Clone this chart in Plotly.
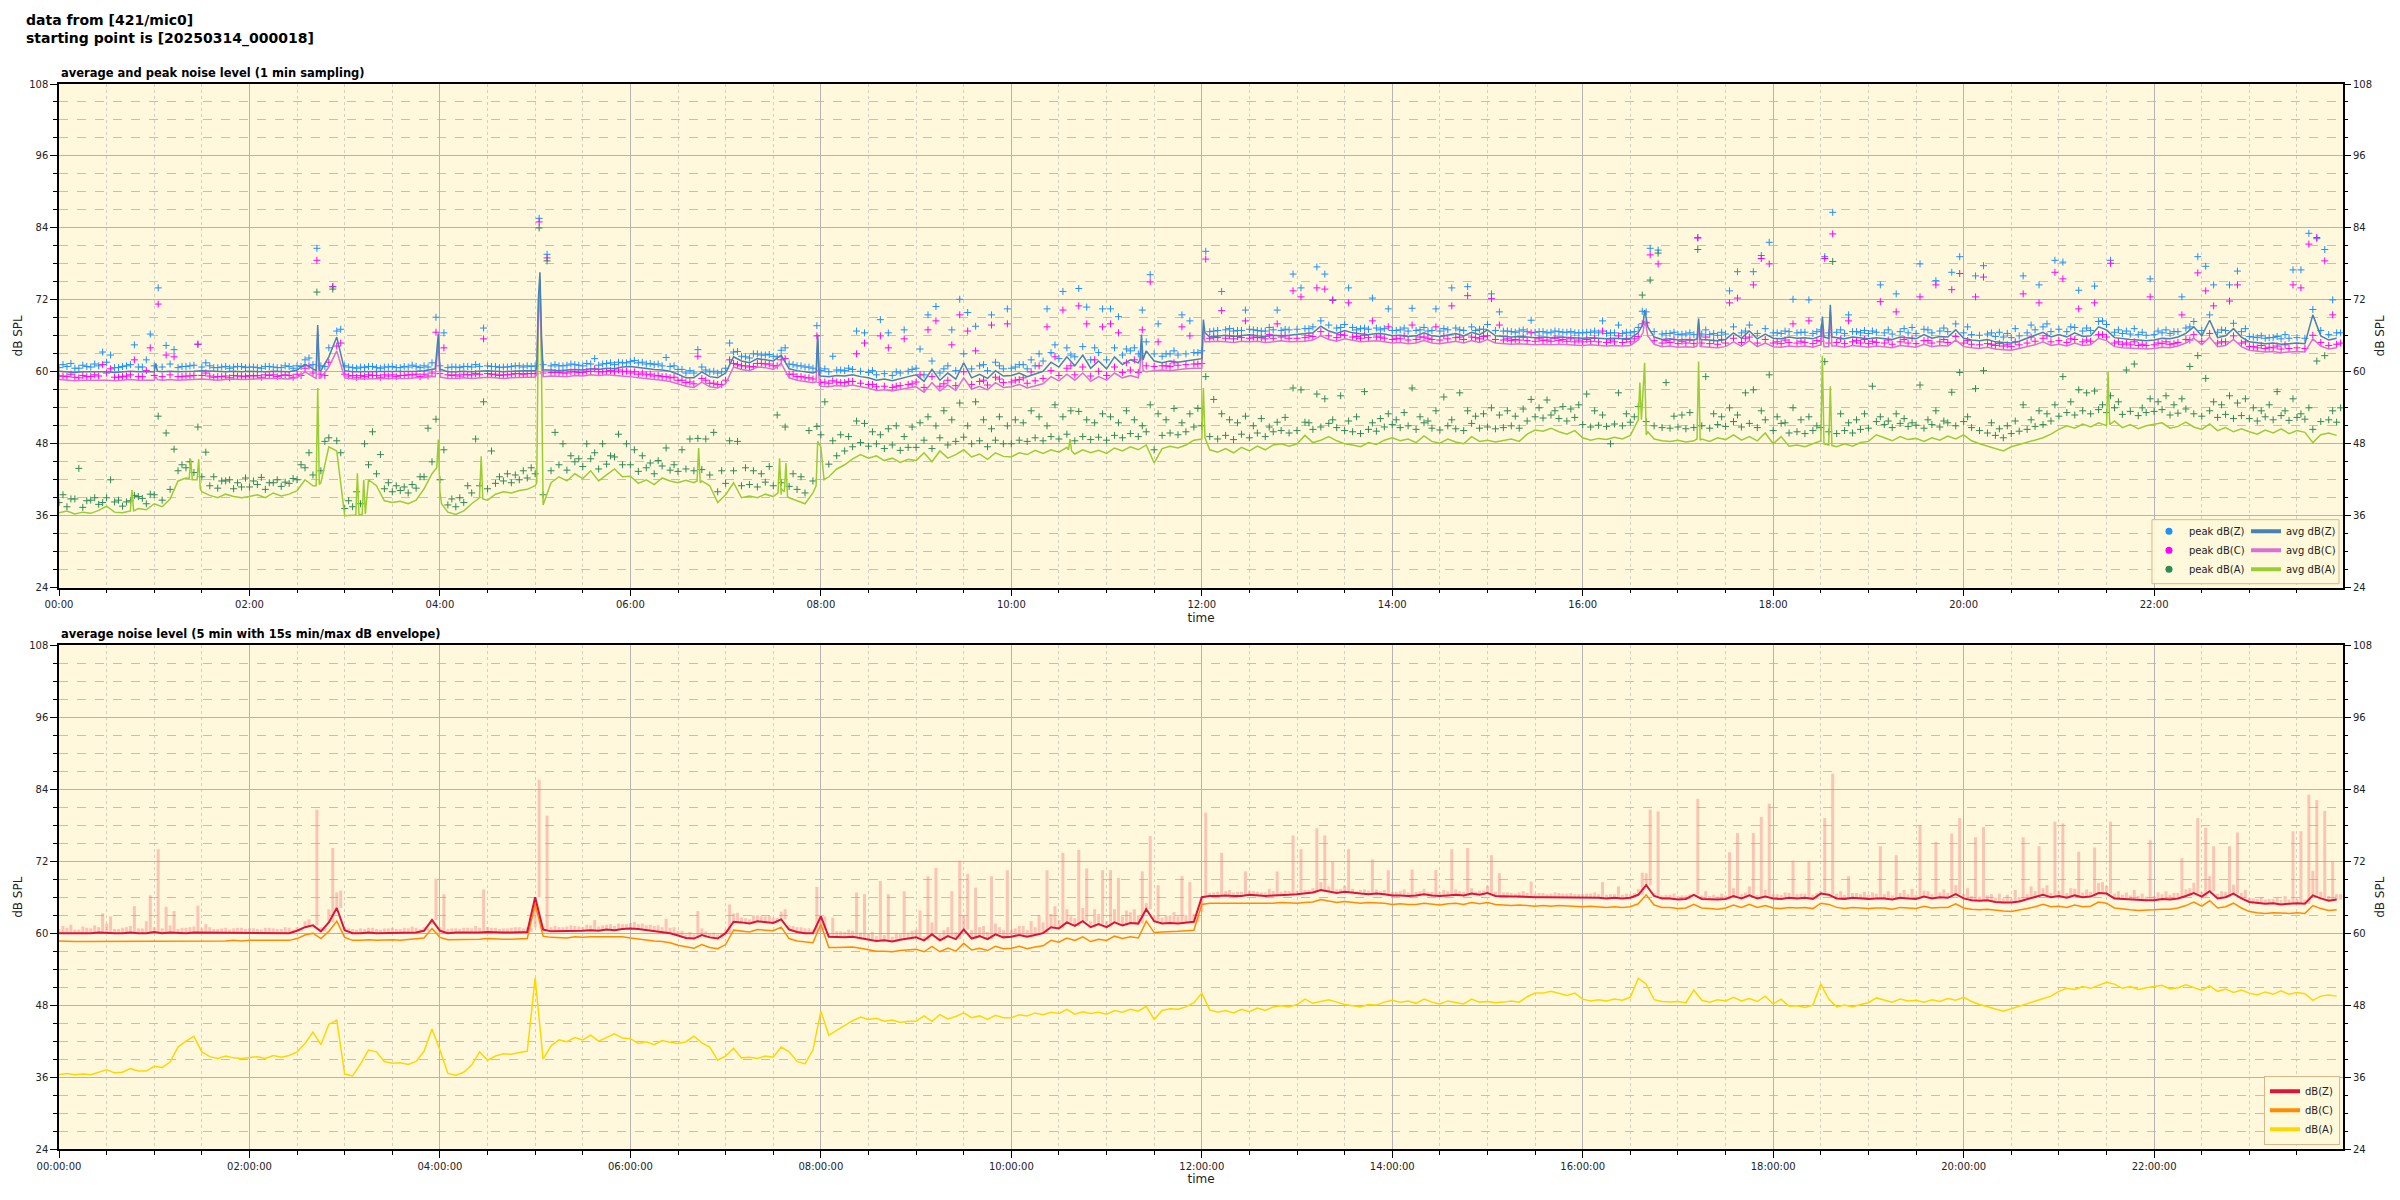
import numpy as np
import pandas as pd
import plotly.graph_objects as go

# ---------------------------------------------------------------- data
DAY = pd.Timestamp("2025-03-14")
grid_min = np.arange(0, 1440, 5)      # 5-minute sampling grid (minutes after midnight)
peak_min = grid_min + 2.5             # first set of peak samples (between grid points)
peakb_min = grid_min + 0.0            # second set of peak samples (on grid points)

# top panel: average levels (1 row = 1 hour, 12 samples)
avg_z = [
    60.1, 60.0, 59.9, 60.0, 60.0, 60.1, 60.0, 59.9, 60.0, 60.1, 60.0, 60.0,
    60.0, 60.0, 60.1, 60.0, 60.0, 60.1, 60.2, 60.1, 60.0, 60.0, 60.1, 60.0,
    60.1, 60.0, 60.0, 60.1, 60.0, 60.0, 60.3, 61.3, 60.5, 60.2, 62.5, 65.8,
    60.2, 60.0, 60.0, 60.1, 60.0, 60.0, 60.1, 60.0, 60.0, 60.1, 60.2, 60.4,
    60.3, 60.0, 60.0, 60.1, 60.0, 60.1, 60.2, 60.1, 60.0, 60.1, 60.2, 60.2,
    60.2, 60.3, 60.3, 60.2, 60.3, 60.4, 60.3, 60.5, 60.4, 60.6, 60.5, 60.8,
    60.9, 60.7, 60.6, 60.4, 60.3, 60.1, 59.6, 59.0, 59.0, 60.0, 59.2, 59.0,
    59.8, 62.5, 61.8, 61.5, 62.2, 62.0, 61.8, 62.8, 60.5, 60.2, 60.0, 59.8,
    59.3, 59.2, 59.4, 59.3, 59.5, 59.2, 59.0, 58.6, 58.8, 58.5, 58.9, 59.2,
    59.5, 58.4, 60.4, 58.6, 59.8, 58.8, 61.5, 59.0, 59.6, 58.9, 60.2, 59.3,
    59.4, 59.8, 59.2, 59.6, 60.1, 61.6, 60.8, 62.5, 61.0, 62.8, 60.6, 61.8,
    60.5, 62.5, 61.2, 62.0, 61.5, 63.5, 61.8, 61.5, 61.8, 61.6, 61.8, 62.0,
    62.2, 65.8, 66.0, 66.1, 65.9, 66.0, 66.2, 66.0, 65.9, 66.1, 66.0, 66.1,
    66.2, 66.3, 66.5, 67.6, 66.8, 66.4, 66.9, 66.5, 66.3, 66.2, 66.4, 66.3,
    66.0, 66.1, 65.9, 66.0, 66.5, 66.0, 65.9, 66.1, 66.4, 66.0, 66.6, 66.2,
    67.0, 66.0, 65.9, 65.8, 65.9, 65.8, 65.7, 65.8, 65.7, 65.8, 65.7, 65.6,
    65.6, 65.7, 65.6, 65.5, 65.6, 65.5, 65.6, 66.5, 69.0, 65.8, 65.4, 65.5,
    65.3, 65.4, 65.3, 65.4, 65.3, 65.2, 65.4, 66.5, 65.6, 66.8, 65.5, 66.3,
    65.6, 65.5, 65.8, 65.6, 65.7, 65.5, 66.0, 65.6, 65.7, 65.5, 65.8, 65.6,
    65.5, 65.7, 65.6, 65.4, 65.8, 65.6, 65.5, 66.2, 65.6, 65.9, 65.8, 67.0,
    65.6, 65.3, 65.2, 65.4, 65.0, 64.9, 64.8, 65.1, 65.6, 66.0, 66.6, 65.8,
    66.2, 65.8, 66.5, 65.9, 66.0, 67.5, 67.0, 65.7, 65.5, 65.4, 65.3, 65.2,
    65.3, 65.6, 65.5, 65.8, 66.4, 67.5, 66.0, 68.6, 65.7, 66.0, 67.2, 65.8,
    65.0, 64.8, 64.7, 64.8, 64.6, 64.7, 64.8, 64.7, 69.5, 66.0, 65.3, 65.6,
]
avg_c = [
    58.7, 58.6, 58.5, 58.6, 58.6, 58.7, 58.6, 58.5, 58.6, 58.7, 58.6, 58.6,
    58.6, 58.6, 58.7, 58.6, 58.6, 58.7, 58.8, 58.7, 58.6, 58.7, 58.8, 58.7,
    58.8, 58.8, 58.9, 58.9, 58.8, 58.8, 59.0, 60.0, 59.2, 59.0, 60.8, 63.5,
    59.0, 58.8, 58.8, 58.9, 58.8, 58.9, 58.9, 58.8, 58.9, 59.0, 59.0, 59.2,
    59.1, 58.9, 58.9, 59.0, 58.9, 59.0, 59.1, 59.0, 58.9, 59.0, 59.1, 59.1,
    59.1, 59.2, 59.3, 59.3, 59.2, 59.4, 59.3, 59.5, 59.4, 59.5, 59.4, 59.4,
    59.2, 59.0, 58.9, 58.7, 58.6, 58.4, 58.0, 57.6, 57.4, 58.3, 57.5, 57.3,
    58.0, 60.8, 60.4, 60.2, 60.8, 60.7, 60.4, 61.4, 59.0, 58.6, 58.4, 58.2,
    57.6, 57.5, 57.7, 57.6, 57.8, 57.5, 57.3, 56.9, 57.0, 56.8, 57.1, 57.3,
    57.5, 56.6, 58.2, 56.8, 57.8, 56.9, 59.0, 57.1, 57.6, 57.0, 58.2, 57.4,
    57.5, 57.9, 57.3, 57.7, 58.0, 59.2, 58.5, 59.6, 58.6, 59.8, 58.4, 59.2,
    58.6, 59.8, 59.0, 59.4, 59.0, 60.0, 60.2, 60.3, 60.2, 60.4, 60.5, 60.6,
    60.6, 65.0, 65.1, 65.0, 64.9, 65.1, 65.0, 65.1, 64.9, 65.0, 65.2, 65.0,
    65.0, 65.1, 65.3, 66.0, 65.4, 65.1, 65.5, 65.2, 65.0, 65.1, 65.2, 65.0,
    64.8, 64.9, 64.7, 64.8, 65.2, 64.8, 64.7, 64.9, 65.1, 64.8, 65.2, 64.9,
    65.4, 64.8, 64.7, 64.6, 64.7, 64.6, 64.5, 64.6, 64.5, 64.6, 64.5, 64.4,
    64.4, 64.5, 64.4, 64.3, 64.4, 64.3, 64.4, 65.3, 67.5, 64.6, 64.2, 64.3,
    64.1, 64.2, 64.1, 64.2, 64.1, 64.0, 64.2, 65.0, 64.3, 65.2, 64.2, 64.8,
    64.2, 64.1, 64.3, 64.2, 64.3, 64.1, 64.5, 64.2, 64.3, 64.1, 64.4, 64.2,
    64.1, 64.3, 64.2, 64.0, 64.4, 64.2, 64.1, 64.6, 64.2, 64.4, 64.3, 65.3,
    64.2, 64.0, 63.9, 64.1, 63.8, 63.7, 63.6, 63.9, 64.2, 64.5, 65.0, 64.4,
    64.6, 64.3, 64.8, 64.4, 64.5, 65.6, 65.2, 64.2, 64.0, 63.9, 63.8, 63.8,
    63.9, 64.1, 64.0, 64.3, 64.8, 65.6, 64.5, 65.8, 64.2, 64.4, 65.4, 64.2,
    63.6, 63.4, 63.3, 63.4, 63.2, 63.3, 63.4, 63.3, 65.5, 64.3, 63.8, 64.0,
]
avg_a = [
    36.5, 36.8, 36.3, 36.6, 36.4, 36.9, 37.6, 36.6, 36.5, 36.8, 37.2, 37.0,
    38.0, 37.5, 38.8, 41.8, 42.3, 42.0, 40.0, 39.4, 39.0, 39.6, 39.2, 39.0,
    39.2, 39.5, 39.0, 39.8, 39.3, 39.6, 40.2, 42.0, 41.0, 41.5, 47.5, 46.8,
    36.0, 36.1, 36.2, 42.0, 41.0, 38.5, 38.2, 38.4, 38.0, 38.6, 40.5, 43.0,
    40.0, 36.6, 36.2, 36.8, 38.0, 39.0, 38.6, 39.6, 40.0, 39.8, 40.2, 40.4,
    41.0, 37.8, 41.5, 42.5, 41.8, 43.0, 42.2, 43.5, 41.8, 42.8, 43.8, 42.5,
    42.6, 41.4, 42.0, 41.2, 42.3, 41.8, 41.5, 41.9, 41.5, 41.8, 41.0, 38.2,
    39.5, 41.5, 39.0, 39.3, 39.0, 39.6, 39.2, 39.5, 39.0, 38.5, 38.0, 39.8,
    47.5, 42.5, 43.8, 44.5, 45.5, 46.2, 45.6, 46.0, 45.2, 45.6, 44.9, 45.4,
    45.2, 46.5, 45.0, 46.8, 45.6, 46.2, 47.0, 45.8, 46.3, 45.4, 46.5, 45.9,
    45.8, 46.5, 46.2, 46.9, 46.4, 47.0, 46.6, 47.4, 46.3, 47.0, 46.5, 46.9,
    46.4, 47.3, 46.8, 47.5, 47.0, 47.8, 44.8, 47.2, 47.6, 47.3, 47.8, 48.6,
    48.8, 47.0, 46.6, 47.2, 46.5, 47.4, 46.8, 47.6, 47.0, 47.8, 48.0, 47.6,
    48.0, 49.4, 48.2, 48.6, 49.2, 48.5, 48.0, 47.8, 47.5, 48.2, 47.9, 48.6,
    49.0, 48.5, 48.8, 48.2, 49.3, 48.4, 48.1, 48.8, 48.3, 48.0, 49.2, 48.4,
    48.6, 48.3, 48.5, 48.8, 48.4, 49.6, 50.3, 50.1, 50.6, 50.0, 49.6, 50.2,
    49.0, 48.6, 48.9, 48.7, 49.1, 48.8, 49.4, 52.0, 49.5, 48.8, 48.5, 48.4,
    48.6, 48.3, 48.5, 48.8, 48.4, 49.0, 48.7, 49.5, 48.6, 49.2, 48.5, 49.8,
    48.0, 49.2, 47.6, 47.8, 47.5, 48.0, 48.5, 47.8, 47.5, 48.0, 47.6, 48.2,
    48.4, 49.5, 49.0, 48.5, 49.2, 48.7, 48.9, 48.4, 49.0, 48.6, 49.3, 48.8,
    49.5, 48.5, 48.0, 47.6, 47.2, 46.8, 47.5, 47.9, 48.2, 48.7, 49.0, 49.6,
    50.4, 51.0, 50.6, 51.3, 50.8, 51.5, 51.0, 51.8, 50.7, 51.2, 50.5, 51.0,
    51.2, 51.5, 50.6, 50.9, 51.6, 50.8, 50.4, 51.3, 50.2, 50.7, 50.0, 50.5,
    50.0, 49.6, 50.3, 49.8, 50.5, 49.7, 50.2, 49.9, 48.2, 49.5, 49.8, 49.4,
]

# short 1-minute events (minute of day, level) including their shoulders
spike_min_z = [60, 61, 62, 162, 163, 164, 237, 239, 241, 301, 302, 303, 304, 477, 478, 479,
               681, 682, 683, 721, 722, 998, 999, 1001, 1032, 1033, 1034, 1110, 1111, 1112, 1116, 1117]
spike_val_z = [60.0, 61.4, 60.1, 60.2, 67.8, 60.3, 60.5, 66.4, 60.4, 60.6, 72.0, 76.6, 66.0, 60.0, 66.2, 59.5,
               62.0, 66.2, 62.0, 68.7, 66.5, 68.0, 70.3, 67.5, 65.5, 68.9, 65.5, 65.8, 69.2, 65.8, 71.2, 65.8]
spike_min_c = spike_min_z
spike_val_c = [58.6, 59.2, 58.7, 58.9, 66.8, 58.9, 59.2, 65.0, 59.1, 59.6, 70.0, 75.3, 64.0, 58.3, 65.5, 57.8,
               60.5, 64.0, 60.2, 67.2, 65.0, 66.5, 68.5, 66.0, 64.3, 68.0, 64.2, 64.3, 67.5, 64.2, 70.0, 64.3]
spike_min_a = [45, 46, 47, 82, 83, 84, 87, 88, 89, 162, 163, 164, 187, 188, 189, 191, 192, 193,
               238, 239, 241, 265, 266, 267, 301, 302, 303, 304, 402, 403, 404,
               453, 454, 455, 457, 458, 459, 477, 478, 479, 482, 636, 637, 638, 721, 722,
               996, 997, 999, 1001, 1032, 1033, 1034, 1110, 1111, 1112, 1116, 1117, 1290, 1291, 1292]
spike_val_a = [37.0, 40.3, 36.8, 42.2, 45.4, 42.0, 42.0, 45.4, 40.5, 41.0, 57.3, 41.2, 36.1, 43.1, 36.0, 36.2, 42.0, 36.3,
               44.0, 48.7, 38.0, 39.5, 45.9, 38.8, 41.5, 68.0, 74.5, 60.0, 41.8, 47.3, 41.5,
               39.8, 45.6, 40.5, 40.0, 44.8, 39.2, 41.0, 48.4, 48.0, 42.0, 47.0, 48.8, 46.8, 57.3, 49.0,
               58.2, 52.0, 61.5, 50.0, 48.8, 61.7, 48.6, 48.3, 62.7, 48.0, 57.6, 47.7, 51.0, 60.0, 51.2]

# top panel: peak levels (first set, includes the outliers)
peak_z = [
    61.2, 61.4, 60.6, 60.9, 61.3, 63.3, 62.8, 60.7, 61.0, 64.5, 60.8, 66.3,
    74.0, 64.4, 63.7, 60.9, 61.0, 64.6, 61.5, 60.7, 60.8, 60.6, 60.9, 60.7,
    60.8, 60.6, 60.9, 60.7, 61.0, 60.6, 60.9, 62.3, 80.6, 60.9, 74.2, 67.1,
    60.8, 60.6, 60.7, 60.9, 60.6, 60.8, 60.7, 60.9, 61.1, 60.7, 60.8, 69.1,
    66.5, 60.8, 60.7, 60.9, 61.2, 67.3, 60.9, 60.7, 60.8, 61.0, 60.8, 60.9,
    85.6, 79.6, 61.2, 61.0, 61.3, 61.1, 61.4, 62.2, 61.3, 61.5, 61.6, 61.5,
    61.9, 61.6, 61.4, 61.3, 62.4, 61.0, 60.4, 60.2, 63.7, 60.3, 60.1, 60.0,
    64.8, 63.4, 62.5, 63.0, 62.8, 62.9, 62.5, 64.0, 61.2, 61.0, 60.8, 67.7,
    60.5, 62.6, 60.3, 60.6, 66.8, 66.5, 60.2, 68.7, 66.5, 60.0, 67.0, 60.4,
    63.8, 69.5, 70.9, 60.5, 67.0, 72.1, 69.9, 67.6, 61.2, 69.5, 61.0, 70.5,
    60.8, 61.2, 62.0, 63.0, 70.5, 64.5, 73.4, 62.8, 73.9, 70.8, 64.0, 70.5,
    70.5, 69.2, 63.8, 64.0, 70.3, 76.2, 68.0, 63.0, 63.5, 69.5, 68.5, 63.2,
    80.1, 66.8, 73.4, 67.2, 66.9, 70.3, 67.0, 66.8, 67.4, 70.3, 67.1, 76.3,
    74.0, 67.2, 77.5, 76.3, 71.9, 67.4, 74.0, 67.0, 67.3, 72.3, 67.0, 70.5,
    66.9, 67.3, 70.6, 67.0, 66.8, 70.5, 67.2, 74.0, 67.0, 74.2, 66.9, 67.1,
    73.0, 70.0, 66.8, 66.6, 67.0, 68.6, 66.7, 66.5, 66.8, 66.6, 66.7, 66.5,
    66.6, 66.8, 68.5, 66.5, 67.8, 66.6, 66.7, 70.1, 80.6, 80.3, 66.4, 66.6,
    66.3, 66.5, 82.4, 67.0, 66.4, 66.6, 73.5, 76.7, 66.8, 76.7, 79.4, 81.6,
    66.5, 66.8, 72.1, 66.6, 72.0, 66.7, 79.2, 86.6, 67.0, 69.5, 66.7, 66.9,
    66.8, 74.5, 67.0, 73.0, 67.2, 67.4, 78.0, 67.0, 75.2, 67.3, 76.6, 79.2,
    67.5, 76.0, 77.7, 66.5, 66.6, 66.4, 67.2, 76.0, 67.8, 74.5, 68.0, 78.6,
    78.3, 67.5, 73.6, 67.3, 74.3, 68.5, 78.6, 67.0, 66.8, 67.2, 66.6, 75.5,
    66.8, 67.0, 66.7, 72.5, 67.5, 79.2, 77.6, 74.5, 67.0, 74.5, 76.8, 67.2,
    65.8, 66.0, 65.7, 65.9, 66.2, 77.0, 77.0, 83.1, 82.2, 80.4, 72.0, 66.5,
]
peak_c = [
    59.3, 59.6, 59.0, 59.2, 59.5, 61.2, 60.5, 59.1, 59.3, 62.0, 59.2, 64.0,
    71.3, 62.8, 62.5, 59.2, 59.3, 64.6, 59.8, 59.1, 59.2, 59.0, 59.3, 59.2,
    59.3, 59.1, 59.4, 59.2, 59.5, 59.1, 59.4, 61.0, 78.6, 59.4, 74.2, 64.8,
    59.3, 59.1, 59.2, 59.4, 59.1, 59.3, 59.2, 59.4, 59.5, 59.2, 59.3, 66.6,
    64.0, 59.4, 59.3, 59.5, 59.7, 65.5, 59.6, 59.4, 59.5, 59.7, 59.6, 59.7,
    85.0, 79.0, 59.9, 59.8, 60.0, 59.9, 60.1, 60.5, 60.0, 60.2, 60.3, 60.1,
    60.0, 59.8, 59.6, 59.4, 59.2, 59.1, 58.6, 58.3, 62.6, 58.6, 58.1, 57.9,
    62.0, 61.2, 61.0, 60.9, 61.4, 61.3, 61.0, 62.2, 59.6, 59.2, 59.0, 66.0,
    58.3, 58.5, 58.2, 58.4, 63.0, 64.8, 57.9, 66.0, 64.0, 57.6, 65.5, 58.0,
    59.5, 67.0, 68.5, 58.0, 64.5, 69.5, 66.8, 63.5, 58.6, 67.8, 58.8, 68.0,
    58.6, 59.0, 60.0, 61.0, 67.5, 62.5, 70.3, 61.0, 71.0, 68.0, 62.0, 67.5,
    68.0, 66.5, 61.5, 62.0, 67.0, 75.0, 65.0, 61.0, 61.5, 67.5, 66.0, 61.3,
    78.8, 65.8, 70.2, 66.0, 65.9, 68.5, 65.8, 65.7, 66.2, 68.0, 66.0, 73.5,
    72.5, 66.0, 74.0, 73.8, 72.0, 66.2, 71.5, 65.9, 66.1, 68.5, 65.8, 67.5,
    65.6, 66.0, 67.8, 65.8, 65.6, 67.5, 66.0, 71.0, 65.8, 72.7, 65.7, 65.9,
    72.2, 67.8, 65.5, 65.4, 65.8, 66.5, 65.5, 65.3, 65.6, 65.4, 65.5, 65.3,
    65.4, 65.6, 66.8, 65.3, 66.0, 65.4, 65.5, 68.0, 79.5, 78.0, 65.2, 65.4,
    65.1, 65.3, 82.3, 65.8, 65.2, 65.4, 71.5, 72.3, 65.6, 74.5, 78.9, 78.0,
    65.0, 65.3, 68.0, 65.1, 68.5, 65.2, 78.9, 83.0, 65.5, 68.5, 65.2, 65.4,
    65.1, 71.7, 65.3, 70.0, 65.4, 65.6, 72.5, 65.2, 74.5, 65.4, 73.7, 76.4,
    65.2, 72.5, 75.8, 64.6, 64.7, 64.5, 65.0, 73.0, 65.8, 71.5, 66.0, 76.6,
    75.5, 65.5, 70.5, 65.3, 71.5, 66.2, 78.1, 65.0, 64.8, 65.0, 64.6, 72.5,
    64.8, 65.0, 64.7, 69.5, 65.3, 76.5, 73.5, 71.0, 65.0, 71.8, 74.5, 65.0,
    64.2, 64.4, 64.1, 64.3, 64.5, 74.5, 74.0, 81.3, 82.4, 78.5, 69.5, 64.8,
]
peak_a = [
    39.5, 38.8, 43.9, 38.5, 39.0, 38.2, 42.0, 38.6, 38.3, 39.4, 38.9, 39.6,
    52.6, 49.8, 47.1, 44.5, 45.0, 50.8, 46.6, 42.5, 41.8, 42.0, 41.5, 42.3,
    41.8, 42.4, 41.5, 42.0, 41.6, 42.2, 44.5, 46.5, 73.3, 48.4, 73.8, 46.5,
    38.5, 40.0, 48.0, 50.0, 46.2, 41.5, 41.0, 40.8, 41.2, 42.5, 50.6, 52.1,
    47.0, 38.8, 39.0, 41.0, 48.8, 55.0, 46.8, 42.5, 43.0, 42.8, 43.5, 44.0,
    84.0, 78.5, 49.9, 48.0, 46.0, 45.5, 48.0, 46.5, 48.0, 46.0, 49.6, 48.0,
    47.0, 46.0, 44.8, 45.2, 47.3, 44.5, 47.0, 48.8, 48.9, 48.8, 49.9, 43.5,
    48.5, 48.4, 44.0, 43.5, 43.0, 44.2, 52.8, 50.8, 43.0, 42.5, 50.2, 50.9,
    55.0, 48.5, 49.5, 49.2, 51.8, 51.4, 50.0, 49.5, 50.5, 51.0, 49.2, 50.8,
    51.5, 52.5, 51.0, 53.5, 52.0, 54.8, 51.0, 55.0, 52.0, 50.5, 52.5, 51.0,
    52.0, 51.5, 53.5, 52.5, 51.0, 54.5, 52.5, 53.5, 53.4, 52.0, 51.5, 53.0,
    52.5, 51.5, 53.5, 52.0, 51.0, 54.5, 53.0, 52.0, 53.9, 51.5, 53.0, 53.9,
    59.2, 55.4, 53.0, 52.0, 51.5, 52.6, 51.0, 52.2, 50.8, 51.6, 52.4, 57.3,
    57.0, 51.5, 56.3, 55.5, 52.0, 56.0, 51.8, 52.5, 56.7, 51.5, 52.2, 53.0,
    52.0, 53.2, 57.3, 52.5, 51.8, 53.5, 55.8, 52.0, 56.5, 53.5, 52.6, 53.0,
    54.0, 52.8, 53.5, 52.6, 53.8, 55.4, 54.0, 55.3, 53.5, 54.2, 53.8, 54.5,
    56.3, 53.5, 52.8, 48.0, 56.5, 53.0, 52.5, 72.8, 75.3, 79.8, 58.2, 52.6,
    52.8, 53.2, 80.4, 59.2, 53.0, 52.5, 54.0, 52.8, 56.5, 57.0, 53.5, 59.5,
    52.5, 51.5, 54.0, 52.0, 52.5, 51.0, 61.7, 78.4, 53.0, 51.5, 52.0, 53.0,
    57.6, 52.5, 51.8, 53.0, 52.2, 51.5, 57.8, 52.0, 53.5, 51.8, 56.6, 59.9,
    52.5, 57.2, 60.2, 51.5, 50.5, 51.0, 51.8, 54.5, 52.0, 53.5, 53.0, 54.5,
    59.2, 55.0, 57.0, 56.5, 56.8, 54.5, 56.0, 55.0, 60.3, 61.3, 54.0, 55.5,
    55.0, 56.0, 54.5, 55.5, 60.9, 62.7, 58.9, 55.0, 54.5, 56.0, 54.8, 55.5,
    54.0, 53.5, 54.5, 56.7, 53.5, 55.5, 53.0, 54.0, 61.8, 62.7, 53.5, 54.0,
]

# top panel: peak levels (second set, the dense band just above the averages)
peakb_z = [
    60.7, 60.9, 60.6, 61.1, 60.8, 61.0, 61.6, 60.7, 60.9, 61.2, 60.8, 62.0,
    61.0, 60.8, 61.3, 60.7, 60.9, 61.1, 60.8, 61.0, 60.7, 60.9, 60.8, 60.9,
    60.8, 60.7, 60.9, 60.8, 60.7, 60.9, 61.0, 62.0, 61.2, 61.0, 64.0, 66.8,
    61.0, 60.7, 60.8, 60.9, 60.7, 60.8, 60.9, 60.7, 60.8, 60.9, 61.0, 61.5,
    61.0, 60.7, 60.8, 60.9, 60.8, 60.9, 61.0, 60.9, 60.8, 60.9, 61.0, 61.0,
    61.0, 61.2, 61.0, 61.0, 61.1, 61.2, 61.0, 61.3, 61.1, 61.4, 61.2, 61.5,
    61.7, 61.5, 61.3, 61.2, 61.0, 60.9, 60.4, 59.8, 59.8, 60.8, 60.0, 59.8,
    60.6, 63.3, 62.6, 62.3, 63.0, 62.8, 62.6, 63.6, 61.3, 61.0, 60.8, 60.6,
    60.2, 60.0, 60.3, 60.2, 60.4, 60.1, 59.9, 59.5, 59.7, 59.4, 59.8, 60.1,
    60.6, 59.5, 61.8, 59.8, 61.0, 60.2, 63.0, 60.5, 61.0, 60.2, 61.6, 60.5,
    60.6, 61.2, 60.5, 61.0, 61.8, 63.2, 62.2, 64.0, 62.5, 64.2, 62.0, 63.2,
    62.0, 64.0, 62.8, 63.5, 63.0, 65.0, 63.0, 62.6, 63.0, 62.8, 63.0, 63.2,
    63.5, 66.7, 66.9, 67.0, 66.8, 66.9, 67.1, 66.9, 66.8, 67.0, 66.9, 67.0,
    67.1, 67.2, 67.5, 68.5, 67.8, 67.3, 67.9, 67.4, 67.2, 67.1, 67.3, 67.2,
    66.9, 67.0, 66.8, 66.9, 67.4, 66.9, 66.8, 67.0, 67.3, 66.9, 67.5, 67.1,
    67.9, 66.9, 66.8, 66.7, 66.8, 66.7, 66.6, 66.7, 66.6, 66.7, 66.6, 66.5,
    66.5, 66.6, 66.5, 66.4, 66.5, 66.4, 66.5, 67.4, 70.0, 66.7, 66.3, 66.4,
    66.2, 66.3, 66.2, 66.3, 66.2, 66.1, 66.3, 67.5, 66.5, 67.8, 66.4, 67.2,
    66.5, 66.4, 66.7, 66.5, 66.6, 66.4, 67.0, 66.5, 66.6, 66.4, 66.7, 66.5,
    66.4, 66.6, 66.5, 66.3, 66.7, 66.5, 66.4, 67.1, 66.5, 66.8, 66.7, 68.0,
    66.5, 66.2, 66.1, 66.3, 65.9, 65.8, 65.7, 66.0, 66.5, 67.0, 67.5, 66.7,
    67.1, 66.7, 67.4, 66.8, 66.9, 68.4, 67.9, 66.6, 66.4, 66.3, 66.2, 66.1,
    66.2, 66.5, 66.4, 66.7, 67.3, 68.4, 66.9, 69.5, 66.6, 66.9, 68.1, 66.7,
    65.9, 65.7, 65.6, 65.7, 65.5, 65.6, 65.7, 65.6, 70.4, 66.9, 66.2, 66.5,
]
peakb_c = [
    59.3, 59.2, 59.1, 59.4, 59.2, 59.3, 59.8, 59.1, 59.2, 59.5, 59.2, 60.2,
    59.4, 59.2, 59.5, 59.2, 59.3, 59.4, 59.4, 59.3, 59.2, 59.3, 59.4, 59.3,
    59.4, 59.4, 59.5, 59.5, 59.4, 59.4, 59.6, 60.6, 59.8, 59.6, 61.6, 64.3,
    59.6, 59.4, 59.4, 59.5, 59.4, 59.5, 59.5, 59.4, 59.5, 59.6, 59.6, 59.8,
    59.7, 59.5, 59.5, 59.6, 59.5, 59.6, 59.7, 59.6, 59.5, 59.6, 59.7, 59.7,
    59.7, 59.8, 59.9, 59.9, 59.8, 60.0, 59.9, 60.1, 60.0, 60.1, 60.0, 60.0,
    59.8, 59.6, 59.5, 59.3, 59.2, 59.0, 58.6, 58.2, 58.0, 58.9, 58.1, 57.9,
    58.6, 61.4, 61.0, 60.8, 61.4, 61.3, 61.0, 62.0, 59.6, 59.2, 59.0, 58.8,
    58.2, 58.1, 58.3, 58.2, 58.4, 58.1, 57.9, 57.5, 57.6, 57.4, 57.7, 57.9,
    58.3, 57.4, 59.2, 57.6, 58.6, 57.7, 60.0, 57.9, 58.4, 57.8, 59.1, 58.2,
    58.3, 58.7, 58.1, 58.5, 58.9, 60.2, 59.4, 60.6, 59.5, 60.8, 59.3, 60.1,
    59.4, 60.8, 59.9, 60.3, 59.9, 61.0, 60.9, 61.0, 60.9, 61.1, 61.2, 61.3,
    61.4, 65.6, 65.7, 65.6, 65.5, 65.7, 65.6, 65.7, 65.5, 65.6, 65.8, 65.6,
    65.6, 65.7, 65.9, 66.7, 66.0, 65.7, 66.1, 65.8, 65.6, 65.7, 65.8, 65.6,
    65.4, 65.5, 65.3, 65.4, 65.8, 65.4, 65.3, 65.5, 65.7, 65.4, 65.8, 65.5,
    66.0, 65.4, 65.3, 65.2, 65.3, 65.2, 65.1, 65.2, 65.1, 65.2, 65.1, 65.0,
    65.0, 65.1, 65.0, 64.9, 65.0, 64.9, 65.0, 65.9, 68.2, 65.2, 64.8, 64.9,
    64.7, 64.8, 64.7, 64.8, 64.7, 64.6, 64.8, 65.6, 64.9, 65.8, 64.8, 65.4,
    64.8, 64.7, 64.9, 64.8, 64.9, 64.7, 65.1, 64.8, 64.9, 64.7, 65.0, 64.8,
    64.7, 64.9, 64.8, 64.6, 65.0, 64.8, 64.7, 65.2, 64.8, 65.0, 64.9, 65.9,
    64.8, 64.6, 64.5, 64.7, 64.4, 64.3, 64.2, 64.5, 64.8, 65.1, 65.6, 65.0,
    65.2, 64.9, 65.4, 65.0, 65.1, 66.2, 65.8, 64.8, 64.6, 64.5, 64.4, 64.4,
    64.5, 64.7, 64.6, 64.9, 65.4, 66.2, 65.1, 66.4, 64.8, 65.0, 66.0, 64.8,
    64.2, 64.0, 63.9, 64.0, 63.8, 63.9, 64.0, 63.9, 66.1, 64.9, 64.4, 64.6,
]
peakb_a = [
    38.2, 37.5, 38.8, 37.4, 38.6, 37.9, 39.0, 38.3, 37.6, 38.5, 39.2, 38.0,
    39.5, 38.6, 40.4, 43.5, 44.0, 43.2, 42.5, 41.0, 40.6, 41.8, 40.5, 40.8,
    40.8, 41.2, 40.4, 41.5, 40.9, 41.4, 42.0, 44.0, 42.8, 43.5, 49.0, 48.5,
    37.2, 37.5, 38.0, 44.5, 43.0, 40.5, 40.0, 40.2, 39.8, 40.6, 42.5, 45.0,
    42.0, 37.8, 37.5, 38.2, 39.8, 41.0, 40.5, 41.4, 41.8, 41.5, 42.0, 42.3,
    43.0, 39.5, 43.5, 44.5, 43.6, 45.0, 44.2, 45.5, 43.8, 44.6, 45.8, 44.5,
    44.5, 43.4, 44.0, 43.0, 44.3, 43.6, 43.4, 43.8, 43.5, 43.7, 42.8, 40.0,
    41.4, 43.5, 41.0, 41.2, 40.8, 41.6, 41.0, 41.5, 40.9, 40.4, 39.8, 41.8,
    49.5, 44.6, 46.0, 46.8, 47.5, 48.2, 47.6, 48.0, 47.2, 47.8, 46.9, 47.4,
    47.4, 48.6, 47.2, 49.0, 47.8, 48.4, 49.1, 48.0, 48.5, 47.5, 48.6, 48.0,
    48.0, 48.6, 48.4, 49.0, 48.5, 49.2, 48.8, 49.6, 48.5, 49.2, 48.7, 49.1,
    48.6, 49.4, 49.0, 49.7, 49.2, 50.0, 47.0, 49.4, 49.8, 49.5, 50.0, 50.8,
    51.0, 49.2, 48.8, 49.4, 48.7, 49.6, 49.0, 49.8, 49.2, 50.0, 50.2, 49.8,
    50.2, 51.6, 50.4, 50.8, 51.4, 50.7, 50.2, 50.0, 49.7, 50.4, 50.1, 50.8,
    51.2, 50.7, 51.0, 50.4, 51.5, 50.6, 50.3, 51.0, 50.5, 50.2, 51.4, 50.6,
    50.8, 50.5, 50.7, 51.0, 50.6, 51.8, 52.5, 52.3, 52.8, 52.2, 51.8, 52.4,
    51.2, 50.8, 51.1, 50.9, 51.3, 51.0, 51.6, 54.2, 51.7, 51.0, 50.7, 50.6,
    50.8, 50.5, 50.7, 51.0, 50.6, 51.2, 50.9, 51.7, 50.8, 51.4, 50.7, 52.0,
    50.2, 51.4, 49.8, 50.0, 49.7, 50.2, 50.7, 50.0, 49.7, 50.2, 49.8, 50.4,
    50.6, 51.7, 51.2, 50.7, 51.4, 50.9, 51.1, 50.6, 51.2, 50.8, 51.5, 51.0,
    51.7, 50.7, 50.2, 49.8, 49.4, 49.0, 49.7, 50.1, 50.4, 50.9, 51.2, 51.8,
    52.6, 53.2, 52.8, 53.5, 53.0, 53.7, 53.2, 54.0, 52.9, 53.4, 52.7, 53.2,
    53.4, 53.7, 52.8, 53.1, 53.8, 53.0, 52.6, 53.5, 52.4, 52.9, 52.2, 52.7,
    52.2, 51.8, 52.5, 52.0, 52.7, 51.9, 52.4, 52.1, 50.4, 51.7, 52.0, 51.6,
]

# bottom panel: 5-minute averages
bot_z = [
    60.0, 60.0, 59.9, 60.0, 60.0, 60.1, 60.0, 60.0, 60.0, 60.1, 60.0, 60.0,
    60.2, 60.0, 60.1, 60.0, 60.0, 60.1, 60.1, 60.1, 60.0, 60.0, 60.1, 60.0,
    60.1, 60.0, 60.0, 60.1, 60.0, 60.0, 60.4, 61.0, 61.3, 60.3, 61.8, 64.2,
    60.5, 60.0, 60.0, 60.1, 60.0, 60.0, 60.1, 60.0, 60.0, 60.1, 60.4, 62.2,
    60.4, 60.0, 60.1, 60.1, 60.0, 60.1, 60.2, 60.1, 60.1, 60.1, 60.2, 60.2,
    66.0, 60.6, 60.3, 60.3, 60.3, 60.4, 60.4, 60.5, 60.4, 60.6, 60.5, 60.7,
    60.8, 60.7, 60.5, 60.4, 60.2, 60.0, 59.6, 59.2, 59.1, 59.7, 59.3, 59.1,
    60.0, 61.9, 61.8, 61.6, 62.0, 61.9, 61.7, 62.3, 60.6, 60.2, 60.0, 60.0,
    62.8, 59.4, 59.3, 59.3, 59.4, 59.2, 59.0, 58.7, 58.8, 58.6, 58.9, 59.1,
    59.3, 58.8, 59.8, 58.8, 59.5, 59.0, 60.6, 59.1, 59.5, 59.0, 59.8, 59.3,
    59.4, 59.7, 59.4, 59.7, 60.0, 61.0, 60.8, 61.8, 61.2, 62.0, 61.0, 61.5,
    61.0, 61.8, 61.3, 61.7, 61.6, 64.0, 62.0, 61.6, 61.7, 61.6, 61.8, 61.9,
    66.0, 66.2, 66.2, 66.3, 66.2, 66.2, 66.4, 66.3, 66.2, 66.3, 66.3, 66.4,
    66.5, 66.6, 66.8, 67.2, 66.9, 66.7, 66.9, 66.7, 66.6, 66.5, 66.6, 66.5,
    66.3, 66.3, 66.2, 66.3, 66.5, 66.3, 66.2, 66.3, 66.4, 66.3, 66.6, 66.4,
    66.7, 66.2, 66.1, 66.1, 66.1, 66.0, 66.0, 66.0, 66.0, 66.0, 65.9, 65.9,
    65.9, 65.9, 65.9, 65.8, 65.9, 65.8, 65.9, 66.4, 68.0, 66.2, 65.8, 65.8,
    65.6, 65.7, 66.4, 65.7, 65.6, 65.6, 65.7, 66.2, 65.8, 66.3, 65.8, 66.1,
    65.8, 65.7, 65.9, 65.8, 65.9, 65.7, 66.6, 66.4, 65.8, 65.7, 65.9, 65.8,
    65.7, 65.8, 65.8, 65.6, 65.9, 65.8, 65.7, 66.1, 65.8, 66.0, 65.9, 66.5,
    65.8, 65.5, 65.4, 65.5, 65.2, 65.1, 65.1, 65.3, 65.7, 66.0, 66.4, 66.0,
    66.2, 65.9, 66.3, 66.0, 66.1, 66.7, 66.6, 65.8, 65.7, 65.6, 65.5, 65.5,
    65.5, 65.7, 65.6, 65.8, 66.2, 66.7, 66.1, 67.0, 65.8, 66.0, 66.6, 65.8,
    65.2, 65.0, 64.9, 65.0, 64.8, 64.9, 65.0, 64.9, 66.3, 65.8, 65.4, 65.6,
]
bot_c = [
    58.7, 58.6, 58.6, 58.6, 58.6, 58.7, 58.6, 58.6, 58.6, 58.7, 58.6, 58.6,
    58.7, 58.6, 58.7, 58.6, 58.6, 58.7, 58.7, 58.7, 58.6, 58.7, 58.8, 58.7,
    58.8, 58.8, 58.9, 58.9, 58.8, 58.8, 59.1, 59.7, 60.0, 59.1, 60.3, 62.0,
    59.3, 58.8, 58.8, 58.9, 58.8, 58.9, 58.9, 58.8, 58.9, 59.0, 59.2, 60.8,
    59.3, 58.9, 58.9, 59.0, 58.9, 59.0, 59.1, 59.0, 59.0, 59.0, 59.1, 59.1,
    64.8, 59.5, 59.3, 59.3, 59.2, 59.4, 59.3, 59.4, 59.4, 59.5, 59.4, 59.4,
    59.2, 59.0, 58.9, 58.7, 58.6, 58.4, 58.0, 57.7, 57.5, 58.1, 57.6, 57.4,
    58.1, 60.5, 60.4, 60.2, 60.6, 60.5, 60.4, 61.0, 59.1, 58.7, 58.5, 58.4,
    61.5, 57.6, 57.6, 57.6, 57.7, 57.5, 57.3, 57.0, 57.0, 56.9, 57.1, 57.2,
    57.3, 56.9, 57.8, 56.9, 57.5, 57.0, 58.3, 57.2, 57.5, 57.1, 57.8, 57.4,
    57.5, 57.8, 57.4, 57.7, 57.9, 58.8, 58.5, 59.2, 58.8, 59.4, 58.6, 59.0,
    58.8, 59.5, 59.1, 59.4, 59.2, 62.0, 60.1, 60.2, 60.2, 60.3, 60.4, 60.5,
    64.8, 65.0, 65.0, 65.0, 64.9, 65.0, 65.0, 65.0, 64.9, 65.0, 65.1, 65.0,
    65.0, 65.1, 65.2, 65.6, 65.3, 65.1, 65.3, 65.1, 65.0, 65.1, 65.1, 65.0,
    64.8, 64.9, 64.8, 64.8, 65.0, 64.8, 64.7, 64.9, 65.0, 64.8, 65.1, 64.9,
    65.1, 64.8, 64.7, 64.6, 64.7, 64.6, 64.5, 64.6, 64.5, 64.6, 64.5, 64.4,
    64.4, 64.5, 64.4, 64.3, 64.4, 64.3, 64.4, 64.9, 66.4, 64.7, 64.3, 64.3,
    64.1, 64.2, 64.8, 64.2, 64.1, 64.0, 64.2, 64.7, 64.3, 64.8, 64.3, 64.6,
    64.2, 64.1, 64.3, 64.2, 64.3, 64.1, 65.0, 64.8, 64.3, 64.1, 64.3, 64.2,
    64.1, 64.2, 64.2, 64.0, 64.3, 64.2, 64.1, 64.5, 64.2, 64.3, 64.3, 64.9,
    64.2, 64.0, 63.9, 64.0, 63.8, 63.7, 63.6, 63.8, 64.1, 64.4, 64.8, 64.4,
    64.5, 64.3, 64.7, 64.4, 64.5, 65.2, 65.0, 64.2, 64.0, 63.9, 63.8, 63.8,
    63.9, 64.0, 64.0, 64.2, 64.6, 65.2, 64.5, 65.4, 64.2, 64.4, 65.0, 64.2,
    63.6, 63.4, 63.3, 63.4, 63.3, 63.3, 63.4, 63.3, 64.6, 64.1, 63.8, 63.9,
]
bot_a = [
    36.4, 36.6, 36.4, 36.5, 36.4, 36.8, 37.2, 36.7, 36.8, 37.4, 37.0, 37.0,
    37.8, 37.6, 38.5, 41.0, 42.0, 42.8, 40.2, 39.4, 39.1, 39.5, 39.2, 39.1,
    39.2, 39.4, 39.1, 39.6, 39.3, 39.6, 40.2, 41.6, 43.5, 41.4, 44.8, 45.5,
    36.5, 36.2, 38.2, 40.5, 40.2, 38.6, 38.3, 38.4, 38.1, 38.6, 40.3, 44.0,
    40.5, 36.6, 36.3, 36.8, 38.0, 40.2, 38.8, 39.5, 39.9, 39.8, 40.1, 40.3,
    52.5, 39.0, 41.2, 42.2, 41.9, 42.6, 42.2, 43.0, 42.0, 42.6, 43.2, 42.5,
    42.4, 41.6, 41.9, 41.4, 42.1, 41.8, 41.6, 41.9, 42.8, 41.7, 41.0, 38.8,
    39.5, 40.8, 39.2, 39.3, 39.1, 39.5, 39.3, 41.0, 40.2, 38.6, 38.2, 40.5,
    47.0, 43.0, 43.8, 44.5, 45.4, 46.0, 45.6, 45.8, 45.3, 45.5, 45.1, 45.3,
    45.3, 46.2, 45.3, 46.4, 45.7, 46.1, 46.7, 45.9, 46.2, 45.6, 46.3, 45.9,
    45.9, 46.4, 46.2, 46.7, 46.4, 46.8, 46.6, 47.3, 46.5, 46.9, 46.6, 46.8,
    46.5, 47.1, 46.8, 47.3, 47.0, 47.8, 45.6, 47.1, 47.4, 47.3, 47.7, 48.4,
    50.0, 47.2, 46.8, 47.1, 46.7, 47.3, 46.9, 47.5, 47.1, 47.7, 47.9, 47.7,
    48.1, 49.0, 48.3, 48.6, 48.9, 48.5, 48.1, 47.9, 47.7, 48.1, 48.0, 48.5,
    48.8, 48.5, 48.7, 48.3, 49.0, 48.5, 48.2, 48.7, 48.4, 48.2, 49.0, 48.5,
    48.6, 48.4, 48.5, 48.7, 48.5, 49.4, 50.0, 50.0, 50.3, 49.9, 49.6, 50.0,
    49.0, 48.7, 48.9, 48.7, 49.0, 48.8, 49.3, 52.5, 51.5, 48.9, 48.6, 48.5,
    48.6, 48.4, 50.5, 48.8, 48.5, 48.9, 48.7, 49.3, 48.7, 49.1, 48.6, 49.5,
    48.2, 49.0, 47.8, 47.9, 47.6, 48.0, 51.5, 49.0, 47.7, 48.0, 47.7, 48.1,
    48.4, 49.2, 48.9, 48.5, 49.0, 48.7, 48.8, 48.5, 48.9, 48.6, 49.1, 48.8,
    49.3, 48.6, 48.1, 47.7, 47.3, 47.0, 47.4, 47.8, 48.2, 48.6, 49.0, 49.5,
    50.3, 50.8, 50.6, 51.1, 50.8, 51.3, 51.8, 51.5, 50.8, 51.1, 50.6, 50.9,
    51.1, 51.3, 50.7, 50.9, 51.4, 50.9, 50.5, 51.2, 50.3, 50.7, 50.1, 50.5,
    50.0, 49.7, 50.2, 49.8, 50.4, 49.8, 50.1, 49.9, 48.8, 49.5, 49.7, 49.5,
]
# 15 s maxima of dB(Z) inside each 5-minute window (two sub-windows)
env_zmax_a = peak_z
env_zmax_b = peakb_z

for arr in (avg_z, avg_c, avg_a, peak_z, peak_c, peak_a, peakb_z, peakb_c, peakb_a, bot_z, bot_c, bot_a):
    assert len(arr) == len(grid_min), len(arr)

# ---------------------------------------------------------------- geometry (pixels)
W, H = 2400, 1200
X0, X1 = 59.3, 2343.0
TOP_Y0, TOP_Y1 = 84.3, 588.0
BOT_Y0, BOT_Y1 = 645.7, 1149.3
PW, PH = X1 - X0, BOT_Y1 - TOP_Y0


def px_x(p):
    return (p - X0) / PW


def px_y(p):
    return (BOT_Y1 - p) / PH


# ---------------------------------------------------------------- helpers
def to_time(m):
    return DAY + pd.to_timedelta(np.asarray(m, dtype=float), unit="m")


def merged(vals, sp_min, sp_val):
    t = np.concatenate([grid_min, np.asarray(sp_min, float)])
    v = np.concatenate([np.asarray(vals, float), np.asarray(sp_val, float)])
    o = np.argsort(t, kind="stable")
    return to_time(t[o]), v[o]


FONT = "DejaVu Sans"
BG = "#FFF8DC"

fig = go.Figure()

# ---------------------------------------------------------------- top panel
for times, vals, col in ((peakb_min, peakb_z, "#1E90FF"), (peakb_min, peakb_c, "#FF00FF"),
                         (peakb_min, peakb_a, "#2E8B57"),
                         (peak_min, peak_z, "#1E90FF"), (peak_min, peak_c, "#FF00FF"),
                         (peak_min, peak_a, "#2E8B57")):
    fig.add_trace(go.Scatter(
        x=to_time(times), y=vals, mode="markers", showlegend=False, hoverinfo="skip",
        marker=dict(symbol="cross-thin", size=5, color=col, line=dict(width=1, color=col)),
        xaxis="x", yaxis="y"))

for vals, smin, sval, col in ((avg_a, spike_min_a, spike_val_a, "#9ACD32"),
                              (avg_c, spike_min_c, spike_val_c, "#DA70D6"),
                              (avg_z, spike_min_z, spike_val_z, "#4682B4")):
    tx, ty = merged(vals, smin, sval)
    fig.add_trace(go.Scatter(x=tx, y=ty, mode="lines", showlegend=False, hoverinfo="skip",
                             line=dict(color=col, width=1.5), xaxis="x", yaxis="y"))

# legend entries (top)
for name, col in (("peak dB(Z)", "#1E90FF"), ("peak dB(C)", "#FF00FF"), ("peak dB(A)", "#2E8B57")):
    fig.add_trace(go.Scatter(x=[None], y=[None], mode="markers", name=name, legend="legend",
                             marker=dict(symbol="circle", size=7, color=col), xaxis="x", yaxis="y"))
for name, col in (("avg dB(Z)", "#4682B4"), ("avg dB(C)", "#DA70D6"), ("avg dB(A)", "#9ACD32")):
    fig.add_trace(go.Scatter(x=[None], y=[None], mode="lines", name=name, legend="legend2",
                             line=dict(color=col, width=4), xaxis="x", yaxis="y"))

# ---------------------------------------------------------------- bottom panel
nx, ny = [], []
for times, env in ((peak_min, env_zmax_a), (peakb_min, env_zmax_b)):
    for t, lo, hi in zip(to_time(times), bot_z, env):
        nx += [t, t, None]
        ny += [lo, hi, None]
fig.add_trace(go.Scatter(x=nx, y=ny, mode="lines", showlegend=False, hoverinfo="skip",
                         line=dict(color="rgba(240,128,128,0.42)", width=3), xaxis="x2", yaxis="y2"))
for vals, col, w in ((bot_a, "#FFD700", 1.5), (bot_c, "#FF8C00", 1.5), (bot_z, "#DC143C", 2.0)):
    fig.add_trace(go.Scatter(x=to_time(grid_min), y=vals, mode="lines", showlegend=False, hoverinfo="skip",
                             line=dict(color=col, width=w), xaxis="x2", yaxis="y2"))
for name, col in (("dB(Z)", "#DC143C"), ("dB(C)", "#FF8C00"), ("dB(A)", "#FFD700")):
    fig.add_trace(go.Scatter(x=[None], y=[None], mode="lines", name=name, legend="legend3",
                             line=dict(color=col, width=4), xaxis="x2", yaxis="y2"))

# dummies to activate the right-hand axes
fig.add_trace(go.Scatter(x=[DAY], y=[None], showlegend=False, hoverinfo="skip", xaxis="x", yaxis="y3"))
fig.add_trace(go.Scatter(x=[DAY], y=[None], showlegend=False, hoverinfo="skip", xaxis="x2", yaxis="y4"))

# ---------------------------------------------------------------- axes
tick_font = dict(family=FONT, size=10, color="#222")
t_end = DAY + pd.Timedelta(minutes=1439)


def xaxis(fmt, anchor):
    return dict(
        type="date", range=[DAY, t_end], domain=[0, 1], anchor=anchor, automargin=False,
        tick0=DAY, dtick=7200000, tickformat=fmt,
        ticks="outside", ticklen=7, tickwidth=1, tickcolor="black", tickfont=tick_font,
        showline=True, linecolor="black", linewidth=1.5, mirror=True,
        showgrid=True, gridcolor="#b4b4b4", gridwidth=1.3, zeroline=False,
        minor=dict(tick0=DAY, dtick=1800000, ticks="outside", ticklen=4, tickcolor="black",
                   showgrid=True, gridcolor="#d4d0c0", griddash="dot", gridwidth=1),
        title=dict(text="time", font=dict(family=FONT, size=12, color="#222"), standoff=4),
    )


yt = list(range(24, 109, 12))


def yaxis(dom, anchor, side="left", overlay=None):
    d = dict(
        range=[24, 108], domain=dom, anchor=anchor, side=side, automargin=False,
        tickmode="array", tickvals=yt, ticktext=[str(v) for v in yt],
        ticks="outside", ticklen=7, tickwidth=1, tickcolor="black", tickfont=tick_font,
        zeroline=False,
        minor=dict(tickmode="linear", tick0=24, dtick=3, ticks="outside", ticklen=4, tickcolor="black",
                   showgrid=overlay is None, gridcolor="#c4c0b4", griddash="dash", gridwidth=1),
        title=dict(text="dB SPL", font=dict(family=FONT, size=12, color="#222"), standoff=4),
    )
    if overlay is None:
        d.update(showline=True, linecolor="black", linewidth=1.5, mirror=True,
                 showgrid=True, gridcolor="#b4b4b4", gridwidth=1.3)
    else:
        d.update(overlaying=overlay, showline=False, showgrid=False)
    return d


top_dom = [px_y(TOP_Y1), px_y(TOP_Y0)]
bot_dom = [px_y(BOT_Y1), px_y(BOT_Y0)]

legend_font = dict(family=FONT, size=10, color="#222")

fig.update_layout(
    width=W, height=H,
    margin=dict(l=X0, r=W - X1, t=TOP_Y0, b=H - BOT_Y1, pad=0, autoexpand=False),
    paper_bgcolor="white", plot_bgcolor=BG,
    font=dict(family=FONT, size=10, color="#222"),
    xaxis=xaxis("%H:%M", "y"),
    xaxis2=xaxis("%H:%M:%S", "y2"),
    yaxis=yaxis(top_dom, "x"),
    yaxis2=yaxis(bot_dom, "x2"),
    yaxis3=yaxis(top_dom, "x", side="right", overlay="y"),
    yaxis4=yaxis(bot_dom, "x2", side="right", overlay="y2"),
    legend=dict(x=px_x(2149), xanchor="left", y=px_y(584), yanchor="bottom", traceorder="normal",
                bgcolor="rgba(0,0,0,0)", borderwidth=0, font=legend_font,
                itemwidth=30, tracegroupgap=0),
    legend2=dict(x=px_x(2246), xanchor="left", y=px_y(584), yanchor="bottom", traceorder="normal",
                 bgcolor="rgba(0,0,0,0)", borderwidth=0, font=legend_font,
                 itemwidth=30, tracegroupgap=0),
    legend3=dict(x=px_x(2340), xanchor="right", y=px_y(1145), yanchor="bottom", traceorder="normal",
                 bgcolor="rgba(255,248,220,0.9)", bordercolor="#D8B88C", borderwidth=1,
                 font=legend_font, itemwidth=30, tracegroupgap=0),
    shapes=[dict(type="rect", xref="paper", yref="paper",
                 x0=px_x(2152), x1=px_x(2339), y0=px_y(584), y1=px_y(520),
                 fillcolor="rgba(255,248,220,0.9)", line=dict(color="#D8B88C", width=1), layer="above")],
    annotations=[
        dict(text="<b>data from [421/mic0]<br>starting point is [20250314_000018]</b>",
             xref="paper", yref="paper", x=px_x(24), y=px_y(10), xanchor="left", yanchor="top",
             align="left", showarrow=False, font=dict(family=FONT, size=14, color="black")),
        dict(text="<b>average and peak noise level (1 min sampling)</b>",
             xref="paper", yref="paper", x=px_x(X0), y=px_y(TOP_Y0 - 2), xanchor="left", yanchor="bottom",
             showarrow=False, font=dict(family=FONT, size=11.5, color="black")),
        dict(text="<b>average noise level (5 min with 15s min/max dB envelope)</b>",
             xref="paper", yref="paper", x=px_x(X0), y=px_y(BOT_Y0 - 2), xanchor="left", yanchor="bottom",
             showarrow=False, font=dict(family=FONT, size=11.5, color="black")),
    ],
)

# the page body has a default 8 px margin; remove it so the figure sits at the window origin
fig.write_html("out.html", config={"displayModeBar": False},
               post_script="document.body.style.margin='0px';")
